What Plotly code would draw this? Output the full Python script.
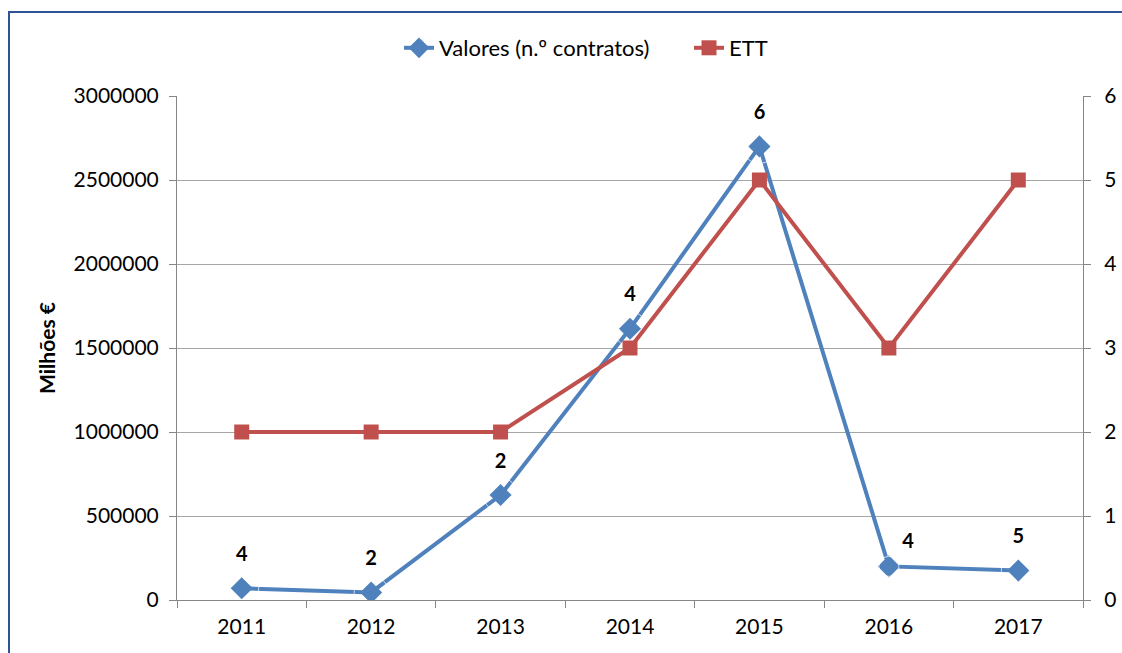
import plotly.graph_objects as go

anos = ["2011", "2012", "2013", "2014", "2015", "2016", "2017"]
valores = [70000, 45000, 625000, 1615000, 2700000, 200000, 175000]
n_contratos = [4, 2, 2, 4, 6, 4, 5]
ett = [2, 2, 2, 3, 5, 3, 5]

AZUL = "#4f81bd"
VERMELHO = "#c0504d"
FONTE = "Lato, 'Open Sans', sans-serif"

W, H = 1122, 653
L, R, T, B = 177, 39, 96, 53
pw, ph = W - L - R, H - T - B


def px(x):
    return (x - L) / pw


def py(y):
    return (H - B - y) / ph


fig = go.Figure()

fig.add_trace(go.Scatter(
    x=anos, y=valores, name="Valores (n.º contratos)",
    mode="lines+markers",
    line=dict(color=AZUL, width=4),
    marker=dict(symbol="diamond", size=17, color=AZUL),
    yaxis="y",
))
fig.add_trace(go.Scatter(
    x=anos, y=ett, name="ETT",
    mode="lines+markers",
    line=dict(color=VERMELHO, width=4),
    marker=dict(symbol="square", size=15, color=VERMELHO),
    yaxis="y2",
))

# rótulos com o número de contratos sobre cada ponto
posicoes = ["top right" if a == "2016" else "top center" for a in anos]
afastamento = [20 if a == "2016" else 34 for a in anos]
fig.add_trace(go.Scatter(
    x=anos, y=valores, mode="markers+text",
    text=["<b>%d</b>" % n for n in n_contratos],
    textposition=posicoes,
    textfont=dict(size=20, color="#000000", family=FONTE),
    marker=dict(size=afastamento, color="rgba(0,0,0,0)"),
    showlegend=False, hoverinfo="skip", cliponaxis=False,
    yaxis="y",
))

# moldura azul (topo e lado esquerdo)
borda = dict(color="#2f5496", width=2)
molduras = [
    dict(type="line", xref="paper", yref="paper",
         x0=px(8), x1=px(W + 5), y0=py(12), y1=py(12), line=borda),
    dict(type="line", xref="paper", yref="paper",
         x0=px(9), x1=px(9), y0=py(12), y1=py(H + 5), line=borda),
]

eixo = dict(showline=True, linecolor="#868686", linewidth=1,
            ticks="outside", ticklen=7, tickcolor="#868686",
            tickfont=dict(size=21), automargin=False)

fig.update_layout(
    width=W, height=H,
    margin=dict(l=L, r=R, t=T, b=B, autoexpand=False),
    paper_bgcolor="white", plot_bgcolor="white",
    font=dict(family=FONTE, size=20, color="#000000"),
    showlegend=True,
    legend=dict(orientation="h", x=px(399), xanchor="left", y=py(48),
                yanchor="middle", font=dict(size=22), entrywidth=245,
                bgcolor="rgba(0,0,0,0)"),
    xaxis=dict(type="category", range=[-0.5, 6.5], tickson="boundaries",
               showgrid=False, ticklabelstandoff=8, **eixo),
    yaxis=dict(range=[0, 3000000], dtick=500000, tickformat="d",
               showgrid=True, gridcolor="#a6a6a6", gridwidth=1, zeroline=False,
               ticklabelstandoff=6,
               title=dict(text="<b>Milhões €</b>", standoff=12, font=dict(size=21)),
               **eixo),
    yaxis2=dict(range=[0, 6], dtick=1, overlaying="y", side="right",
                showgrid=False, zeroline=False, ticklabelstandoff=9, **eixo),
    shapes=molduras,
)

fig.write_html("out.html")
